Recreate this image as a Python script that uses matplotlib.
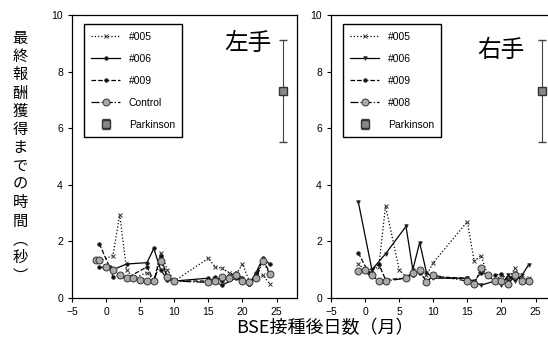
import matplotlib.pyplot as plt
import numpy as np

plt.rcParams['font.family'] = ['Liberation Sans', 'Noto Sans CJK JP', 'DejaVu Sans']

# left hand
L005_x = [-1, 1, 2, 3, 4, 6, 7, 8, 9, 10, 15, 16, 17, 18, 19, 20, 21, 22, 23, 24]
L005_y = [1.3, 1.5, 2.95, 1.0, 0.7, 0.9, 0.6, 1.6, 1.0, 0.6, 1.4, 1.1, 1.05, 0.9, 0.8, 1.2, 0.6, 0.7, 0.8, 0.5]
L006_x = [-1, 1, 3, 6, 7, 8, 9, 10, 15, 17, 19, 20, 21, 22, 23, 24]
L006_y = [1.1, 1.0, 1.2, 1.25, 1.75, 1.0, 0.65, 0.6, 0.7, 0.45, 0.7, 0.6, 0.5, 0.9, 1.4, 1.2]
L009_x = [-1, 0.5, 1, 2, 3, 6, 7, 8, 9, 10, 15, 16, 17, 19, 20, 21, 22, 23, 24]
L009_y = [1.92, 1.1, 0.75, 0.8, 0.7, 1.1, 0.6, 1.5, 0.7, 0.6, 0.6, 0.75, 0.6, 0.9, 0.7, 0.5, 0.8, 1.35, 0.9]
Lctl_x = [-1.5, -1, 0, 1, 2, 3, 4, 5, 6, 7, 8, 9, 10, 15, 16, 17, 18, 19, 20, 21, 22, 23, 24]
Lctl_y = [1.35, 1.35, 1.1, 1.0, 0.8, 0.7, 0.7, 0.65, 0.6, 0.6, 1.3, 0.75, 0.6, 0.55, 0.6, 0.75, 0.7, 0.8, 0.6, 0.55, 0.7, 1.3, 0.85]

# right hand
R005_x = [-1, 0, 1, 2, 3, 5, 6, 8, 9, 10, 15, 16, 17, 18, 19, 20, 21, 22, 23, 24]
R005_y = [1.2, 1.0, 1.0, 1.1, 3.25, 1.0, 0.75, 1.0, 0.8, 1.25, 2.7, 1.3, 1.5, 0.8, 0.6, 0.8, 0.7, 1.05, 0.7, 0.7]
R006_x = [-1, 1, 3, 6, 7, 8, 9, 10, 15, 17, 19, 20, 21, 22, 23, 24]
R006_y = [3.4, 1.0, 1.56, 2.53, 1.0, 1.96, 0.9, 0.7, 0.7, 0.45, 0.6, 0.47, 0.8, 0.6, 0.8, 1.18]
R009_x = [-1, 0.5, 2, 3, 6, 7, 8, 9, 10, 15, 16, 17, 19, 20, 21, 22, 23, 24]
R009_y = [1.6, 0.9, 1.2, 0.65, 0.7, 0.8, 0.9, 0.6, 0.75, 0.7, 0.6, 0.9, 0.8, 0.85, 0.6, 0.9, 0.6, 0.55]
R008_x = [-1, 0, 1, 2, 3, 6, 7, 8, 9, 10, 15, 16, 17, 18, 19, 20, 21, 22, 23, 24]
R008_y = [0.95, 1.0, 0.8, 0.6, 0.6, 0.7, 0.9, 1.0, 0.55, 0.8, 0.6, 0.5, 1.05, 0.8, 0.6, 0.6, 0.5, 0.8, 0.6, 0.6]

park_x = 26
park_mean = 7.3
park_err = 1.8

fig = plt.figure(figsize=(5.48, 3.42), dpi=100)
axL = fig.add_axes([72/548, 44/342, 225/548, 283/342])
axR = fig.add_axes([331/548, 44/342, 225/548, 283/342])


def draw(ax, series, title, tx, ty):
    for (x, y, lab, ls, mk, ms, mfc) in series:
        ax.plot(x, y, color='black', linestyle=ls, linewidth=0.9, marker=mk,
                markersize=ms, markerfacecolor=mfc, markeredgecolor='#333333',
                markeredgewidth=0.7, label=lab)
    ax.errorbar([park_x], [park_mean], yerr=[park_err], fmt='s', color='#444444',
                markerfacecolor='#888888', markeredgecolor='#333333', markersize=6,
                ecolor='#444444', elinewidth=0.8, capsize=3, label='Parkinson')
    ax.set_xlim(-5, 28)
    ax.set_ylim(0, 10)
    ax.set_xticks([-5, 0, 5, 10, 15, 20, 25])
    ax.set_yticks([0, 2, 4, 6, 8, 10])
    ax.tick_params(labelsize=7.5, length=3, width=0.8, direction='out')
    for s in ax.spines.values():
        s.set_linewidth(0.9)
    ax.text(tx, ty, title, transform=ax.transAxes, fontsize=17,
            family='Noto Sans CJK JP', ha='center', va='center')
    ax.legend(loc='upper left', bbox_to_anchor=(0.03, 0.985), fontsize=7.5,
              frameon=True, fancybox=False, edgecolor='black', framealpha=1,
              handlelength=2.8, labelspacing=1.15, borderpad=0.7)


draw(axL, [
    (L005_x, L005_y, '#005', ':', 'x', 3.5, 'none'),
    (L006_x, L006_y, '#006', '-', 'o', 2.5, 'black'),
    (L009_x, L009_y, '#009', '--', 'o', 2.5, 'black'),
    (Lctl_x, Lctl_y, 'Control', '-.', 'o', 5, '#aaaaaa'),
], '左手', 0.78, 0.9)

draw(axR, [
    (R005_x, R005_y, '#005', ':', 'x', 3.5, 'none'),
    (R006_x, R006_y, '#006', '-', 'v', 2.5, 'black'),
    (R009_x, R009_y, '#009', '--', 'o', 2.5, 'black'),
    (R008_x, R008_y, '#008', '-.', 'o', 5, '#aaaaaa'),
], '右手', 0.755, 0.875)

ylab = '最終報酬獲得までの時間︵秒︶'
fig.text(20/548, 1 - 157/342, '\n'.join(ylab), family='Noto Sans CJK JP',
         fontsize=11, ha='center', va='center', linespacing=1.1)
fig.text(325/548, 1 - 328/342, 'BSE接種後日数（月）', family='Noto Sans CJK JP',
         fontsize=13, ha='center', va='center')

fig.savefig('out.png', dpi=100)
